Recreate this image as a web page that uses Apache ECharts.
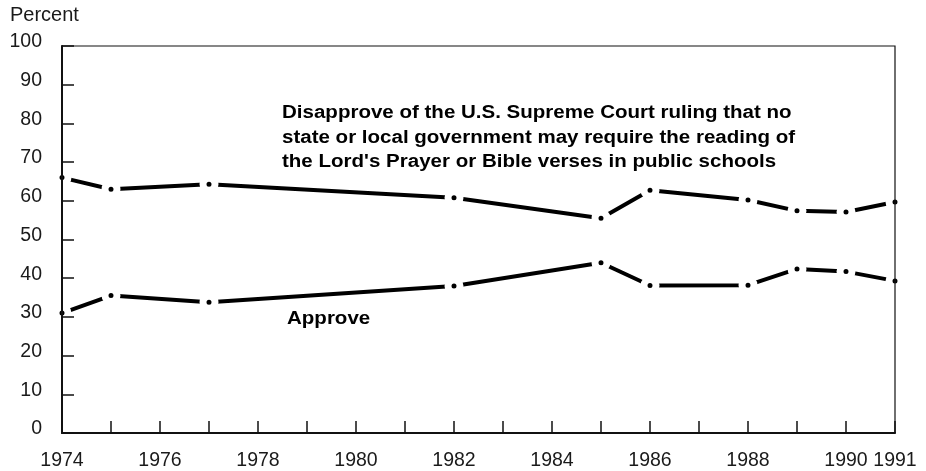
<!DOCTYPE html>
<html>
<head>
<meta charset="utf-8">
<script src="https://cdn.jsdelivr.net/npm/echarts@6/dist/echarts.min.js"></script>
<style>
html,body{margin:0;padding:0;background:#fff;}
#chart{width:926px;height:471px;}
</style>
</head>
<body>
<div id="chart"></div>
<script>
const years = [1974, 1975, 1977, 1982, 1985, 1986, 1988, 1989, 1990, 1991];
const disapprove = [66, 63, 64.3, 60.8, 55.5, 62.7, 60.2, 57.4, 57.1, 59.7];
const approve = [31, 35.5, 33.8, 38, 44, 38.1, 38.2, 42.4, 41.7, 39.3];
const xLabelYears = [1974, 1976, 1978, 1980, 1982, 1984, 1986, 1988, 1990, 1991];
const yTicks = [0, 10, 20, 30, 40, 50, 60, 70, 80, 90, 100];
const disapproveText = [
  "Disapprove of the U.S. Supreme Court ruling that no",
  "state or local government may require the reading of",
  "the Lord's Prayer or Bible verses in public schools"
];
const approveText = "Approve";

const chart = echarts.init(document.getElementById('chart'));
const font = 'Liberation Sans, Arial, sans-serif';
const lineSeries = (name, vals) => ({
  name: name,
  type: 'line',
  data: years.map((y, i) => [y, vals[i]]),
  symbol: 'circle',
  symbolSize: 12,
  showSymbol: true,
  lineStyle: { color: '#000', width: 4 },
  itemStyle: { color: '#000', borderColor: '#fff', borderWidth: 7 },
  emphasis: { disabled: true },
  silent: true,
  z: 2
});

chart.setOption({
  animation: false,
  backgroundColor: '#fff',
  grid: {
    left: 62, right: 31, top: 46, bottom: 38,
    show: true, borderColor: '#111', borderWidth: 1.2, z: 5
  },
  xAxis: {
    type: 'value', min: 1974, max: 1991, interval: 1, z: 5,
    axisLine: { show: true, lineStyle: { color: '#111', width: 2 } },
    axisTick: { show: true, inside: true, length: 12, lineStyle: { color: '#111', width: 1.5 } },
    splitLine: { show: false },
    axisLabel: {
      color: '#1a1a1a', fontFamily: font, fontSize: 19.5, margin: 18,
      formatter: v => xLabelYears.includes(v) ? String(v) : ''
    }
  },
  yAxis: {
    type: 'value', min: 0, max: 100, interval: 10, z: 5,
    axisLine: { show: true, lineStyle: { color: '#111', width: 2 } },
    axisTick: { show: true, inside: true, length: 12, lineStyle: { color: '#111', width: 1.5 } },
    splitLine: { show: false },
    axisLabel: {
      color: '#1a1a1a', fontFamily: font, fontSize: 19.5, margin: 20,
      formatter: v => yTicks.includes(v) ? '{v|' + v + '}' : '',
      rich: { v: { color: '#1a1a1a', fontFamily: font, fontSize: 19.5, padding: [0, 0, 8, 0] } }
    },
    name: 'Percent', nameLocation: 'end', nameGap: 21,
    nameTextStyle: { color: '#1a1a1a', fontFamily: font, fontSize: 20, align: 'left', padding: [0, 0, 0, -52] }
  },
  series: [lineSeries('Disapprove', disapprove), lineSeries('Approve', approve)],
  graphic: [
    {
      type: 'text', x: 282, y: 101, scaleX: 1.14, z: 10,
      style: { text: disapproveText.join('\n'), font: 'bold 18px ' + font, fill: '#000', lineHeight: 24.5 }
    },
    {
      type: 'text', x: 287, y: 310, scaleX: 1.14, z: 10,
      style: { text: approveText, font: 'bold 18px ' + font, fill: '#000' }
    }
  ]
});
</script>
</body>
</html>
